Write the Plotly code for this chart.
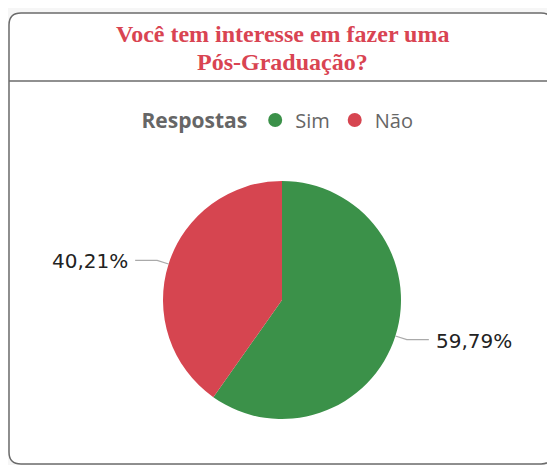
import math
import plotly.graph_objects as go

# ---- data ----
categories = ["Sim", "Não"]
values = [59.79, 40.21]
colors = ["#3b9149", "#d64550"]
title_lines = ["Você tem interesse em fazer uma", "Pós-Graduação?"]
legend_title = "Respostas"

# ---- layout constants (screen pixels; the page body has an 8px margin) ----
OFF = 8
W, H = 555 - OFF, 473 - 2 * OFF
CX, CY, R = 282, 300, 119
CARD = (9, 13, 553, 464, 12)
SEP_Y = 81


def px(x):
    return (x - OFF) / W


def py(y):
    return 1 - (y - OFF) / H


fig = go.Figure()

fig.add_trace(go.Pie(
    labels=categories, values=values, sort=False, direction="clockwise",
    rotation=0, marker=dict(colors=colors, line=dict(width=0)),
    textinfo="none", showlegend=False, hoverinfo="label+percent",
    domain=dict(x=[px(CX - R), px(CX + R)], y=[py(CY + R), py(CY - R)]),
))

for cat, col in zip(categories, colors):
    fig.add_trace(go.Scatter(x=[None], y=[None], mode="markers", name=cat,
                             marker=dict(size=14, color=col, symbol="circle")))

shapes = []
annotations = []

# card with rounded corners
x0, y0, x1, y1, rad = CARD
pts = [("M", [(x0 + rad, y0)]), ("L", [(x1 - rad, y0)]), ("Q", [(x1, y0), (x1, y0 + rad)]),
       ("L", [(x1, y1 - rad)]), ("Q", [(x1, y1), (x1 - rad, y1)]), ("L", [(x0 + rad, y1)]),
       ("Q", [(x0, y1), (x0, y1 - rad)]), ("L", [(x0, y0 + rad)]), ("Q", [(x0, y0), (x0 + rad, y0)])]
path = " ".join(cmd + " " + " ".join(f"{px(a):.5f},{py(b):.5f}" for a, b in p) for cmd, p in pts) + " Z"
shapes.append(dict(type="path", xref="paper", yref="paper", path=path,
                   fillcolor="white", line=dict(color="#6b6b6b", width=1.5), layer="below"))
shapes.append(dict(type="line", xref="paper", yref="paper", x0=px(x0), x1=px(x1),
                   y0=py(SEP_Y), y1=py(SEP_Y), line=dict(color="#6b6b6b", width=1.5), layer="below"))

# title lines
for i, t in enumerate(title_lines):
    annotations.append(dict(text=f"<b>{t}</b>", xref="paper", yref="paper", x=px(CX),
                            y=py(34 + 28 * i), xanchor="center", yanchor="middle", showarrow=False,
                            font=dict(family="Liberation Serif", size=24, color="#d94452")))

# outside labels with leader lines
total = sum(values)
cum = 0
for v in values:
    mid = (cum + v / 2) / total
    cum += v
    th = 2 * math.pi * mid
    dx, dy = math.sin(th), -math.cos(th)
    p0 = (CX + R * dx, CY + R * dy)
    p1 = (CX + (R + 12) * dx, CY + (R + 12) * dy)
    side = 1 if dx >= 0 else -1
    p2 = (p1[0] + side * 22, p1[1])
    shapes.append(dict(type="path", xref="paper", yref="paper", layer="above",
                       path=f"M {px(p0[0]):.5f},{py(p0[1]):.5f} L {px(p1[0]):.5f},{py(p1[1]):.5f} "
                            f"L {px(p2[0]):.5f},{py(p2[1]):.5f}",
                       line=dict(color="#aaaaaa", width=1.2)))
    label = f"{v:.2f}%".replace(".", ",")
    annotations.append(dict(text=label, xref="paper", yref="paper", x=px(p2[0] + side * 5),
                            y=py(p2[1] + 1), xanchor="left" if side > 0 else "right",
                            yanchor="middle", showarrow=False,
                            font=dict(family="DejaVu Sans", size=20, color="#222222")))

fig.update_layout(
    width=W, height=H, margin=dict(l=0, r=0, t=0, b=0),
    paper_bgcolor="#f6f6f6", plot_bgcolor="rgba(0,0,0,0)",
    xaxis=dict(visible=False), yaxis=dict(visible=False),
    shapes=shapes, annotations=annotations,
    legend=dict(orientation="h", x=px(CX - 3), xanchor="center", y=py(120), yanchor="middle",
                title=dict(text=f"<b>{legend_title}</b>", side="left",
                           font=dict(family="Open Sans", size=21, color="#666666")),
                font=dict(family="Open Sans", size=20, color="#666666"),
                bgcolor="rgba(0,0,0,0)", itemclick=False),
)

fig.write_html("out.html")
